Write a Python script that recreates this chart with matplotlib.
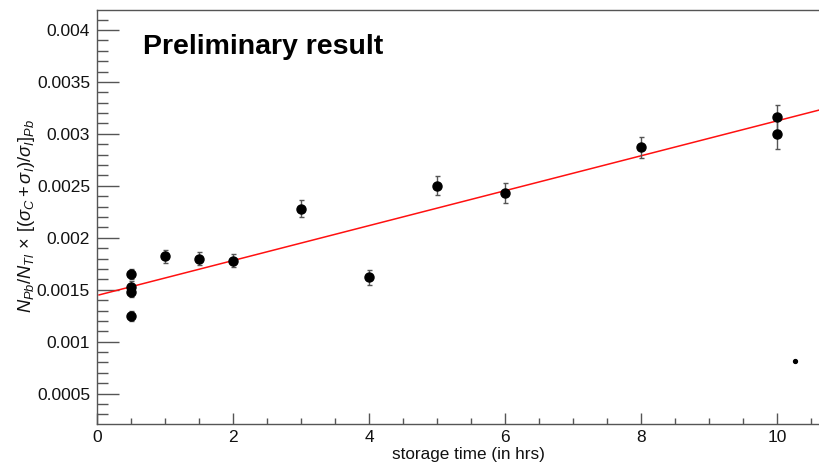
import matplotlib
matplotlib.use("Agg")
import matplotlib.pyplot as plt
import numpy as np
from matplotlib.ticker import MultipleLocator, FixedLocator

plt.rcParams['font.family'] = ['Liberation Sans', 'DejaVu Sans']
plt.rcParams['mathtext.fontset'] = 'custom'
plt.rcParams['mathtext.rm'] = 'Liberation Sans'
plt.rcParams['mathtext.it'] = 'Liberation Sans:italic'
plt.rcParams['mathtext.bf'] = 'Liberation Sans:bold'

# data
storage_time = [0.5, 0.5, 0.5, 0.5, 1.0, 1.5, 2.0, 3.0, 4.0, 5.0, 6.0, 8.0, 10.0, 10.0]
ratio = [0.00165, 0.00153, 0.00148, 0.00125, 0.00182, 0.00180, 0.00178,
         0.00228, 0.00162, 0.00250, 0.00243, 0.00287, 0.00316, 0.00300]
ratio_err = [0.00005, 0.00005, 0.00005, 0.00005, 0.00006, 0.00006, 0.00006,
             0.00008, 0.00007, 0.00009, 0.00010, 0.00010, 0.00012, 0.00015]

fit_intercept = 0.001445
fit_slope = 0.000168
fit_range = [0.03, 11.0]

stray_x = [10.27]
stray_y = [0.000814]

y_ticks = [0.0005, 0.001, 0.0015, 0.002, 0.0025, 0.003, 0.0035, 0.004]
y_tick_labels = ["0.0005", "0.001", "0.0015", "0.002", "0.0025", "0.003", "0.0035", "0.004"]
x_ticks = [0, 2, 4, 6, 8, 10]

fig = plt.figure(figsize=(8.19, 4.63), dpi=100)
ax = fig.add_axes([97/819, 39/463, (845-97)/819, 414/463])

axis_col = '#555555'
for s in ax.spines.values():
    s.set_color(axis_col)
    s.set_linewidth(1.0)
ax.spines['right'].set_visible(False)

fx = np.array(fit_range)
ax.plot(fx, fit_intercept + fit_slope * fx, color='#ff1010', lw=1.1, zorder=2)

ax.errorbar(storage_time, ratio, yerr=ratio_err, fmt='o', color='black',
            ms=6.5, ecolor='#555555', elinewidth=1.0, capsize=1.8, capthick=1.0, zorder=3)
ax.plot(stray_x, stray_y, 'o', color='black', ms=2.8, zorder=3)

ax.set_xlim(0, 11.0)
ax.set_ylim(0.000208, 0.004192)

ax.xaxis.set_major_locator(FixedLocator(x_ticks))
ax.xaxis.set_minor_locator(MultipleLocator(0.5))
ax.yaxis.set_major_locator(FixedLocator(y_ticks))
ax.set_yticklabels(y_tick_labels)
ax.yaxis.set_minor_locator(MultipleLocator(0.0001))

ax.tick_params(axis='both', which='both', direction='in', color=axis_col, width=1.0,
               labelsize=12.5, labelcolor='#111111')
ax.tick_params(axis='y', which='major', length=16, pad=5)
ax.tick_params(axis='y', which='minor', length=8)
ax.tick_params(axis='x', which='major', length=8, pad=4)
ax.tick_params(axis='x', which='minor', length=4.3)
ax.tick_params(top=False, right=False, which='both')

fig.text(143/819, 1 - 47/463, "Preliminary result", fontsize=20.5, fontweight='bold',
         ha='left', va='center', color='black')

fig.text(468/819, 1 - 454/463, "storage time (in hrs)", fontsize=12.3, ha='center', va='center',
         color='#111111')
fig.text(27/819, 1 - 216/463,
         r"$N_{Pb}/N_{Tl}\,\times\,[(\sigma_{C}+\sigma_{I})/\sigma_{I}]_{Pb}$",
         rotation=90, fontsize=13.2, ha='center', va='center', color='#111111')

fig.savefig("out.png", dpi=100, facecolor='white')
